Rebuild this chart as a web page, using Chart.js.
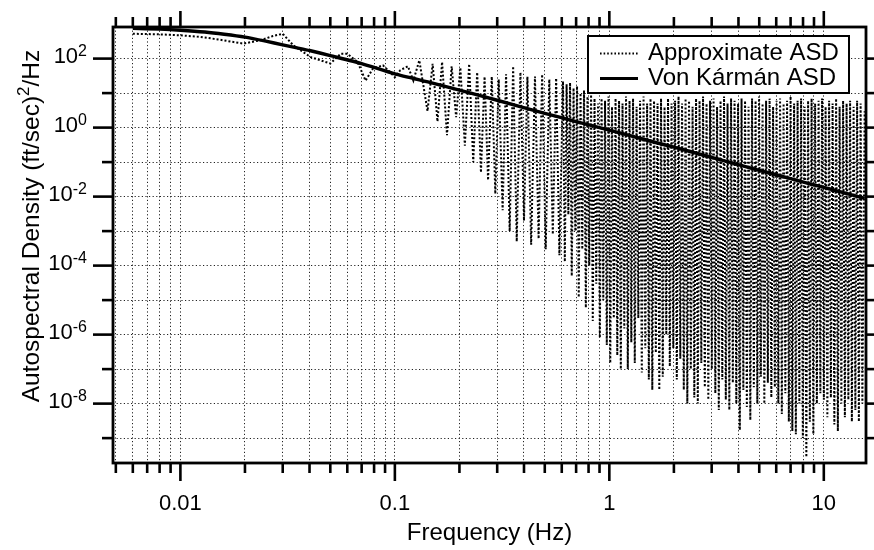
<!DOCTYPE html>
<html><head><meta charset="utf-8">
<script src="https://cdn.jsdelivr.net/npm/chart.js@4.4.1/dist/chart.umd.min.js"></script>
<style>html,body{margin:0;padding:0;background:#fff;}canvas{display:block;}</style>
</head><body>
<canvas id="c" width="874" height="550"></canvas>
<script>
// ---------- data ----------
const vkFreq = [0.006, 0.008, 0.01, 0.013, 0.016, 0.02, 0.025, 0.03, 0.035, 0.04, 0.05, 0.07, 0.1, 0.15, 0.2, 0.3, 0.5, 0.7, 1, 1.5, 2, 3, 5, 7, 10, 15.5];
const vkAsd  = [750, 715, 665, 590, 510, 420, 320, 250, 205, 172, 122, 72, 36, 19.5, 12.2, 6.2, 2.6, 1.5, 0.85, 0.43, 0.27, 0.138, 0.058, 0.033, 0.0185, 0.0089];

const approxFreq = [
  0.006, 0.008, 0.010, 0.0124, 0.015, 0.0177, 0.0197, 0.0236, 0.027, 0.030,
  0.0336, 0.0404, 0.050, 0.056, 0.060, 0.067, 0.073, 0.079, 0.088, 0.095,
  0.100, 0.106, 0.115, 0.122,
  0.130, 0.142, 0.150, 0.158, 0.166, 0.175, 0.184, 0.193, 0.202, 0.212,
  0.222, 0.232, 0.242, 0.252, 0.262, 0.272, 0.283, 0.294, 0.305, 0.318,
  0.330, 0.343, 0.356, 0.370, 0.385, 0.400, 0.415, 0.432, 0.450, 0.468,
  0.486, 0.505, 0.525, 0.545, 0.565, 0.585,
  0.608, 0.620, 0.632, 0.644, 0.656, 0.668, 0.681, 0.694, 0.707, 0.720,
  0.734, 0.748, 0.762, 0.777, 0.791, 0.806, 0.822, 0.837, 0.853, 0.869,
  0.886, 0.903, 0.920, 0.937, 0.955, 0.973, 0.991, 1.010, 1.029, 1.049,
  1.069, 1.089, 1.110, 1.131, 1.152, 1.174, 1.196, 1.219, 1.242, 1.266,
  1.290, 1.314, 1.340, 1.365, 1.391, 1.417, 1.444, 1.471, 1.500, 1.528,
  1.556, 1.586, 1.616, 1.647, 1.678, 1.710, 1.742, 1.775, 1.809, 1.843,
  1.878, 1.914, 1.950, 1.987, 2.025, 2.063, 2.102, 2.142, 2.183, 2.224,
  2.267, 2.310, 2.353, 2.398, 2.444, 2.490, 2.537, 2.585, 2.634, 2.684,
  2.735, 2.787, 2.840, 2.894, 2.949, 3.005, 3.062, 3.120, 3.179, 3.239,
  3.300, 3.363, 3.427, 3.492, 3.558, 3.626, 3.695, 3.765, 3.836, 3.909,
  3.983, 4.059, 4.135, 4.214, 4.294, 4.376, 4.458, 4.543, 4.629, 4.717,
  4.807, 4.898, 4.991, 5.086, 5.182, 5.280, 5.381, 5.483, 5.587, 5.693,
  5.801, 5.911, 6.023, 6.137, 6.253, 6.372, 6.494, 6.617, 6.742, 6.870,
  7.000, 7.133, 7.269, 7.407, 7.547, 7.690, 7.836, 7.985, 8.136, 8.291,
  8.448, 8.608, 8.771, 8.938, 9.107, 9.280, 9.456, 9.636, 9.818, 10.005,
  10.194, 10.388, 10.585, 10.786, 10.990, 11.199, 11.411, 11.628, 11.849, 12.074,
  12.302, 12.536, 12.773, 13.016, 13.263, 13.515, 13.771, 14.033, 14.298, 14.570,
  14.846, 15.128, 15.5
];
const approxAsd = [
  525, 505, 473, 425, 360, 302, 272, 340, 450, 525,
  243, 111, 72, 139, 139, 80, 23, 51, 64, 40,
  29, 46, 60, 23,
  89, 3, 70, 1.5, 80, 0.6, 60, 2, 55, 0.3,
  70, 0.1, 40, 0.05, 30, 0.03, 30, 0.012, 25, 0.004,
  35, 0.001, 60, 0.0005, 40, 0.002, 30, 0.0004, 30, 0.0006,
  35, 0.0003, 25, 0.0008, 27, 0.0002,
  22, 1.3e-4, 18, 3e-3, 20, 5e-5, 14, 1e-3, 16, 1.2e-5,
  10, 3e-4, 12, 6e-6, 8, 1e-4, 9, 2.5e-6, 7, 3e-5,
  5, 8e-7, 7, 1e-5, 6, 5e-7, 8, 1.5e-7, 4, 3e-6,
  7, 2.5e-7, 6, 1e-7, 5, 1.5e-6, 8, 1e-7, 6, 6e-7,
  7, 1.5e-7, 4, 3e-6, 6, 8e-8, 8, 4e-7, 5, 5e-8,
  7, 2.5e-8, 6, 3e-7, 5, 2.5e-8, 7, 6e-8, 4, 1e-6,
  7, 1.2e-7, 5, 4e-7, 6, 5e-8, 8, 2e-7, 5, 2.5e-8,
  7, 1e-8, 6, 1e-7, 4, 1.5e-8, 7, 1e-8, 6, 1.5e-7,
  8, 3e-8, 5, 1.3e-8, 6, 1e-7, 7, 2e-8, 4, 6.5e-9,
  6, 5e-8, 8, 1.3e-8, 5, 6.5e-9, 7, 4e-8, 6, 1e-8,
  5, 1.7e-9, 7, 2.5e-8, 6, 8e-9, 4, 3.3e-9, 7, 3e-8,
  6, 1e-8, 8, 6e-8, 5, 1e-8, 6, 4e-8, 7, 1.5e-8,
  4, 3e-8, 6, 1e-8, 7, 5e-9, 5, 2e-8, 6, 3e-9,
  8, 1.6e-9, 5, 1.3e-9, 6, 1e-8, 7, 1e-9, 4, 2.8e-10,
  6, 3e-9, 7, 1.3e-9, 5, 1e-8, 6, 2e-8, 7, 1.3e-8,
  4, 4e-9, 6, 1.5e-8, 5, 2.5e-9, 7, 1.6e-9, 4, 1e-8,
  6, 4e-9, 5, 1.3e-8, 6, 3e-9, 4, 6.5e-9, 6, 3e-9,
  5, 1e-8, 3
];

const xTickValues = [0.005, 0.006, 0.007, 0.008, 0.009, 0.01, 0.02, 0.03, 0.04, 0.05, 0.06, 0.07, 0.08, 0.09,
  0.1, 0.2, 0.3, 0.4, 0.5, 0.6, 0.7, 0.8, 0.9, 1, 2, 3, 4, 5, 6, 7, 8, 9, 10];
const xLabelValues = [0.01, 0.1, 1, 10];
const xLabels = ['0.01', '0.1', '1', '10'];
const yTickValues = [1e-9, 1e-8, 1e-7, 1e-6, 1e-5, 1e-4, 1e-3, 1e-2, 1e-1, 1e0, 1e1, 1e2];
const yLabelValues = [1e2, 1e0, 1e-2, 1e-4, 1e-6, 1e-8];
const yLabelBase = '10';
const yLabelExps = ['2', '0', '-2', '-4', '-6', '-8'];

const seriesNames = ['Approximate ASD', 'Von Kármán ASD'];
const xTitle = 'Frequency (Hz)';
const yTitleParts = ['Autospectral Density (ft/sec)', '2', '/Hz'];

// ---------- helpers ----------
const same = (a, b) => Math.abs(Math.log10(a) - Math.log10(b)) < 1e-6;
const labelFor = (v, vals, labs) => { const i = vals.findIndex(t => same(t, v)); return i >= 0 ? labs[i] : ''; };
const FONT = '"Liberation Sans", Arial, Helvetica, sans-serif';
Chart.defaults.font.family = FONT;
Chart.defaults.color = '#000';

const decor = {
  id: 'decor',
  afterDraw(chart) {
    const {ctx, chartArea: a, scales: {x, y}} = chart;
    ctx.save();
    ctx.strokeStyle = '#000';
    ctx.fillStyle = '#000';
    ctx.lineCap = 'butt';
    const line = (x1, y1, x2, y2) => { ctx.beginPath(); ctx.moveTo(x1, y1); ctx.lineTo(x2, y2); ctx.stroke(); };
    ctx.lineWidth = 2.6;
    x.ticks.forEach(t => {
      const px = x.getPixelForValue(t.value);
      const major = xLabelValues.some(v => same(v, t.value));
      line(px, a.bottom, px, a.bottom + (major ? 18 : 10));
      line(px, a.top, px, a.top - (major ? 16 : 10));
    });
    y.ticks.forEach(t => {
      const py = y.getPixelForValue(t.value);
      const major = yLabelValues.some(v => same(v, t.value));
      line(a.left, py, a.left - (major ? 20 : 11), py);
      line(a.right, py, a.right + (major ? 20 : 11), py);
    });
    // y tick labels: "10" with raised exponent
    const rightEdge = a.left - 26;
    yLabelValues.forEach((v, i) => {
      const py = y.getPixelForValue(v);
      ctx.font = '16px ' + FONT;
      const we = ctx.measureText(yLabelExps[i]).width;
      ctx.textAlign = 'left';
      ctx.textBaseline = 'alphabetic';
      ctx.fillText(yLabelExps[i], rightEdge - we, py - 3);
      ctx.font = '22px ' + FONT;
      ctx.textAlign = 'right';
      ctx.textBaseline = 'middle';
      ctx.fillText(yLabelBase, rightEdge - we, py - 2);
    });
    // frame
    ctx.lineWidth = 2.8;
    ctx.strokeRect(a.left, a.top, a.right - a.left, a.bottom - a.top);

    // legend
    const lx = 588, ly = 36, lw = 261, lh = 57;
    ctx.fillStyle = '#fff';
    ctx.fillRect(lx, ly, lw, lh);
    ctx.lineWidth = 2;
    ctx.strokeRect(lx, ly, lw, lh);
    ctx.lineWidth = 2.2;
    ctx.setLineDash([1.6, 2]);
    line(600, 53.5, 638, 53.5);
    ctx.setLineDash([]);
    ctx.lineWidth = 3.2;
    line(600, 78.5, 638, 78.5);
    ctx.fillStyle = '#000';
    ctx.font = '24px ' + FONT;
    ctx.textAlign = 'left';
    ctx.textBaseline = 'alphabetic';
    ctx.fillText(seriesNames[0], 648, 59.5);
    ctx.fillText(seriesNames[1], 648, 84.5);

    // y title with superscript
    ctx.save();
    ctx.translate(38.5, 226);
    ctx.rotate(-Math.PI / 2);
    ctx.textAlign = 'left';
    ctx.textBaseline = 'alphabetic';
    const big = '24.5px ' + FONT, small = '17px ' + FONT;
    ctx.font = big; const w1 = ctx.measureText(yTitleParts[0]).width;
    ctx.font = small; const w2 = ctx.measureText(yTitleParts[1]).width;
    ctx.font = big; const w3 = ctx.measureText(yTitleParts[2]).width;
    let sx = -(w1 + w2 + w3) / 2;
    ctx.font = big; ctx.fillText(yTitleParts[0], sx, 0); sx += w1;
    ctx.font = small; ctx.fillText(yTitleParts[1], sx, -10); sx += w2;
    ctx.font = big; ctx.fillText(yTitleParts[2], sx, 0);
    ctx.restore();
    ctx.restore();
  }
};

const zeroPad = s => { s.paddingTop = 0; s.paddingBottom = 0; s.paddingLeft = 0; s.paddingRight = 0; };

new Chart(document.getElementById('c'), {
  type: 'line',
  data: {
    datasets: [
      {
        label: seriesNames[0],
        data: approxFreq.map((f, i) => ({x: f, y: approxAsd[i]})),
        borderColor: '#000',
        borderWidth: 2,
        borderDash: [2, 2],
        pointRadius: 0,
        tension: 0,
        fill: false
      },
      {
        label: seriesNames[1],
        data: vkFreq.map((f, i) => ({x: f, y: vkAsd[i]})),
        borderColor: '#000',
        borderWidth: 3.4,
        pointRadius: 0,
        tension: 0.2,
        fill: false
      }
    ]
  },
  options: {
    responsive: false,
    animation: false,
    devicePixelRatio: 1,
    layout: {padding: {top: 27, right: 8, left: 0, bottom: 0}},
    plugins: {legend: {display: false}, tooltip: {enabled: false}},
    scales: {
      x: {
        type: 'logarithmic',
        min: 0.00485,
        max: 15.73,
        afterBuildTicks: s => { s.ticks = xTickValues.map(v => ({value: v})); },
        afterFit: s => { s.height = 87; zeroPad(s); },
        grid: {color: '#222', lineWidth: 1, drawTicks: false},
        border: {display: false, dash: [1.2, 2.4]},
        ticks: {
          autoSkip: false, maxRotation: 0, minRotation: 0, padding: 28,
          font: {size: 22}, color: '#000',
          callback: v => labelFor(v, xLabelValues, xLabels)
        },
        title: {display: true, text: xTitle, font: {size: 24}, color: '#000', padding: {top: 0, bottom: 2}}
      },
      y: {
        type: 'logarithmic',
        min: 1.9e-10,
        max: 824,
        afterBuildTicks: s => { s.ticks = yTickValues.map(v => ({value: v})); },
        afterFit: s => { s.width = 113; zeroPad(s); },
        grid: {color: '#222', lineWidth: 1, drawTicks: false},
        border: {display: false, dash: [1.2, 2.4]},
        ticks: {
          autoSkip: false, padding: 26,
          font: {size: 22}, color: '#000',
          callback: () => ''
        }
      }
    }
  },
  plugins: [decor]
});
</script>
</body></html>
